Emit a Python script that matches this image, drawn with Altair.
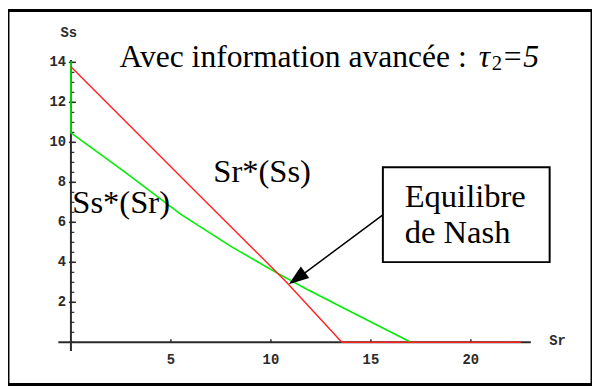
import altair as alt
import pandas as pd

# ---- data ----
red_sr = [0, 6.17, 10.77, 13.55, 22.5]
red_ss = [13.78, 7.61, 3.02, 0, 0]
green_sr = [0, 0, 2.72, 5.5, 8.0, 10.12, 11.75, 14.0, 17.0]
green_ss = [14.05, 10.47, 8.5, 6.4, 4.8, 3.57, 2.68, 1.53, 0]
y_major = [2, 4, 6, 8, 10, 12, 14]
y_minor = [v / 2 for v in range(0, 29)]
x_major = [5, 10, 15, 20]

TITLE = "Avec information avancée :"
LBL_SR = "Sr*(Ss)"
LBL_SS = "Ss*(Sr)"
BOX1 = "Equilibre"
BOX2 = "de Nash"

xs = alt.Scale(domain=[-3.147, 26.058], nice=False, zero=False)
ys = alt.Scale(domain=[-2.107, 16.591], nice=False, zero=False)
X = lambda f="x": alt.X(f"{f}:Q", scale=xs, axis=None)
Y = lambda f="y": alt.Y(f"{f}:Q", scale=ys, axis=None)

AX = "#2a2a2a"
SERIF = "Liberation Serif"
MONO = "Liberation Mono"

# axes lines
axes_df = pd.DataFrame({"x": [0, -0.63], "x2": [0, 23.0], "y": [-0.43, 0], "y2": [14.12, 0]})
axes = alt.Chart(axes_df).mark_rule(color=AX, strokeWidth=2).encode(
    x=X(), x2="x2:Q", y=Y(), y2="y2:Q")

# y ticks
ymin_df = pd.DataFrame({"y": y_minor})
ymin = alt.Chart(ymin_df).mark_rule(color=AX, strokeWidth=1.2).encode(
    x=alt.datum(0, scale=xs, axis=None), x2=alt.datum(0.17), y=Y())
ymaj_df = pd.DataFrame({"y": y_major})
ymaj = alt.Chart(ymaj_df).mark_rule(color=AX, strokeWidth=1.5).encode(
    x=alt.datum(-0.1, scale=xs, axis=None), x2=alt.datum(0.25), y=Y())
ylab = alt.Chart(ymaj_df).mark_text(font=MONO, fontWeight="bold", fontSize=14,
                                    align="right", baseline="middle", dx=-5, color=AX).encode(
    x=alt.datum(0, scale=xs, axis=None), y=Y(), text="y:Q")

# x ticks
xmaj_df = pd.DataFrame({"x": x_major})
xmaj = alt.Chart(xmaj_df).mark_rule(color=AX, strokeWidth=1.5).encode(
    x=X(), y=alt.datum(0, scale=ys, axis=None), y2=alt.datum(0.15))
xlab = alt.Chart(xmaj_df).mark_text(font=MONO, fontWeight="bold", fontSize=14,
                                    align="center", baseline="middle", dy=18, color=AX).encode(
    x=X(), y=alt.datum(0, scale=ys, axis=None), text="x:Q")

# axis names
names_df = pd.DataFrame({"x": [-0.11, 24.33], "y": [15.46, 0.06], "t": ["Ss", "Sr"]})
names = alt.Chart(names_df).mark_text(font=MONO, fontWeight="bold", fontSize=14,
                                      align="center", baseline="middle", color=AX).encode(
    x=X(), y=Y(), text="t:N")

# curves
g_df = pd.DataFrame({"x": green_sr, "y": green_ss, "o": range(len(green_sr))})
green = alt.Chart(g_df).mark_line(color="#00ee00", strokeWidth=1.6).encode(
    x=X(), y=Y(), order="o:Q")
r_df = pd.DataFrame({"x": red_sr, "y": red_ss, "o": range(len(red_sr))})
red = alt.Chart(r_df).mark_line(color="#ff2020", strokeWidth=1.4).encode(
    x=X(), y=Y(), order="o:Q")

# texts
def txt(x, y, t, size=33, style="normal", align="left"):
    d = pd.DataFrame({"x": [x], "y": [y], "t": [t]})
    return alt.Chart(d).mark_text(font=SERIF, fontSize=size, fontStyle=style, align=align,
                                  baseline="alphabetic", color="black").encode(
        x=X(), y=Y(), text="t:N")

title = txt(2.43, 13.78, TITLE, size=32)
tau = txt(20.4, 13.78, "τ", size=32, style="italic")
sub = txt(21.05, 13.6, "2", size=21)
eq5 = txt(21.55, 13.78, "=5", size=32, style="italic")
lsr = txt(7.12, 8.0, LBL_SR)
lss = txt(0.07, 6.47, LBL_SS)

# nash box + arrow
box_df = pd.DataFrame({"x": [15.6], "x2": [23.94], "y": [8.75], "y2": [4.01]})
box = alt.Chart(box_df).mark_rect(fill="white", stroke="black", strokeWidth=2).encode(
    x=X(), x2="x2:Q", y=Y(), y2="y2:Q")
b1 = txt(16.69, 6.77, BOX1)
b2 = txt(16.69, 4.95, BOX2)

arr_df = pd.DataFrame({"x": [15.6], "x2": [11.4], "y": [6.37], "y2": [3.25]})
shaft = alt.Chart(arr_df).mark_rule(color="black", strokeWidth=1.5).encode(
    x=X(), x2="x2:Q", y=Y(), y2="y2:Q")
head_df = pd.DataFrame({"x": [11.3], "y": [3.2]})
head = alt.Chart(head_df).mark_point(shape="M0,-1L0.7,1L-0.7,1Z", size=420, angle=233.5,
                                     filled=True, color="black", opacity=1).encode(x=X(), y=Y())

chart = alt.layer(
    axes, ymin, ymaj, ylab, xmaj, xlab, names, green, red,
    title, tau, sub, eq5, lsr, lss, shaft, head, box, b1, b2
).properties(width=592, height=379, autosize="none", padding=0
).configure_view(stroke="black", strokeWidth=3)

chart.save("out.html", embed_options={"renderer": "svg", "actions": False})
